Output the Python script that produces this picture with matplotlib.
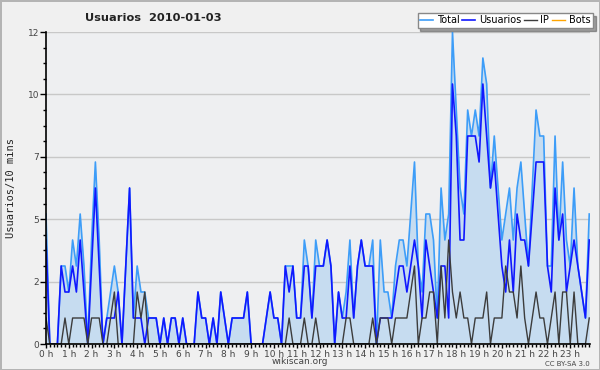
import numpy as np
import matplotlib
matplotlib.use('Agg')
from matplotlib import pyplot as plt
from matplotlib.ticker import FixedLocator, MultipleLocator

# valores cada 10 minutos (144 puntos)
total = [5, 0, 0, 0, 3, 3, 2, 4, 3, 5,
         3, 0, 4, 7, 4, 0, 1, 2, 3, 2,
         0, 3, 6, 1, 3, 2, 2, 1, 1, 1,
         0, 1, 0, 1, 1, 0, 1, 0, 0, 0,
         2, 1, 1, 0, 1, 0, 2, 1, 0, 1,
         1, 1, 1, 2, 0, 0, 0, 0, 1, 2,
         1, 1, 0, 3, 3, 3, 1, 1, 4, 3,
         1, 4, 3, 3, 4, 3, 0, 2, 1, 2,
         4, 1, 3, 4, 3, 3, 4, 0, 4, 2,
         2, 1, 3, 4, 4, 3, 5, 7, 3, 2,
         5, 5, 4, 1, 6, 4, 5, 12, 9, 6,
         5, 9, 8, 9, 8, 11, 10, 6, 8, 6,
         4, 5, 6, 4, 6, 7, 5, 3, 6, 9,
         8, 8, 3, 3, 8, 4, 7, 4, 3, 6,
         3, 2, 1, 5]

usuarios = [4, 0, 0, 0, 3, 2, 2, 3, 2, 4,
            2, 0, 3, 6, 3, 0, 1, 1, 1, 2,
            0, 3, 6, 1, 1, 1, 0, 1, 1, 1,
            0, 1, 0, 1, 1, 0, 1, 0, 0, 0,
            2, 1, 1, 0, 1, 0, 2, 1, 0, 1,
            1, 1, 1, 2, 0, 0, 0, 0, 1, 2,
            1, 1, 0, 3, 2, 3, 1, 1, 3, 3,
            1, 3, 3, 3, 4, 3, 0, 2, 1, 1,
            3, 1, 3, 4, 3, 3, 3, 0, 1, 1,
            1, 1, 2, 3, 3, 2, 3, 4, 3, 1,
            4, 3, 2, 1, 3, 3, 1, 10, 8, 4,
            4, 8, 8, 8, 7, 10, 8, 6, 7, 5,
            3, 2, 4, 2, 5, 4, 4, 3, 5, 7,
            7, 7, 3, 2, 6, 4, 5, 2, 3, 4,
            3, 2, 1, 4]

ip = [1, 0, 0, 0, 0, 1, 0, 1, 1, 1,
      1, 0, 1, 1, 1, 0, 0, 1, 2, 0,
      0, 0, 0, 0, 2, 1, 2, 0, 0, 0,
      0, 0, 0, 0, 0, 0, 0, 0, 0, 0,
      0, 0, 0, 0, 0, 0, 0, 0, 0, 0,
      0, 0, 0, 0, 0, 0, 0, 0, 0, 0,
      0, 0, 0, 0, 1, 0, 0, 0, 1, 0,
      0, 1, 0, 0, 0, 0, 0, 0, 0, 1,
      1, 0, 0, 0, 0, 0, 1, 0, 1, 1,
      1, 0, 1, 1, 1, 1, 2, 3, 0, 1,
      1, 2, 2, 0, 3, 1, 4, 2, 1, 2,
      1, 1, 0, 1, 1, 1, 2, 0, 1, 1,
      1, 3, 2, 2, 1, 3, 1, 0, 1, 2,
      1, 1, 0, 1, 2, 0, 2, 2, 0, 2,
      0, 0, 0, 1]

bots = [0] * 144

hour_labels = [f'{h} h' for h in range(24)]
y_ticks = [0, 2.4, 4.8, 7.2, 9.6, 12]
y_labels = ['0', '2', '5', '7', '10', '12']

c_total = '#3d9df8'
c_fill = '#c6dcf0'
c_users = '#1018ff'
c_ip = '#3c3c3c'
c_bots = '#ffa500'

x = np.arange(len(total))

fig = plt.figure(figsize=(6, 3.7), dpi=100, facecolor='#f0f0f0',
                 edgecolor='#b4b4b4', linewidth=2)
ax = fig.add_axes([46/600, 1-344/370, 544/600, 312/370])
ax.set_facecolor('#eeeff1')

ax.fill_between(x, total, 0, color=c_fill, lw=0, zorder=1)
l_bots, = ax.plot(x, bots, color=c_bots, lw=1, zorder=1.5)
l_total, = ax.plot(x, total, color=c_total, lw=1.2, zorder=2)
l_users, = ax.plot(x, usuarios, color=c_users, lw=1.2, zorder=3)
l_ip, = ax.plot(x, ip, color=c_ip, lw=1, zorder=4)

ax.set_xlim(0, 143.2)
ax.set_ylim(0, 12)

ax.yaxis.set_major_locator(FixedLocator(y_ticks))
ax.set_yticklabels(y_labels)
ax.yaxis.set_minor_locator(MultipleLocator(0.6))
ax.grid(axis='y', which='major', color='#c8c8c8', lw=1)
ax.set_axisbelow(True)

ax.xaxis.set_major_locator(FixedLocator(np.arange(24) * 6))
ax.set_xticklabels(hour_labels)
ax.xaxis.set_minor_locator(MultipleLocator(1))

ax.tick_params(axis='both', which='major', length=4, width=1, color='black',
               labelsize=6.5, labelcolor='#444444', pad=1)
ax.tick_params(axis='both', which='minor', length=2.5, width=1, color='black')
ax.tick_params(axis='x', which='major', length=3)

for s in ['top', 'right']:
    ax.spines[s].set_visible(False)
for s in ['left', 'bottom']:
    ax.spines[s].set_color('black')
    ax.spines[s].set_linewidth(1.2)
    ax.spines[s].set_zorder(5)

ax.set_ylabel('Usuarios/10 mins', family='DejaVu Sans Mono', fontsize=7.5,
              color='#222222', labelpad=8)

fig.text(0.142, 0.952, 'Usuarios  2010-01-03', fontsize=8.2, weight='bold',
         color='#222222', va='center')

leg = fig.legend([l_total, l_users, l_ip, l_bots],
                 ['Total', 'Usuarios', 'IP', 'Bots'], ncol=4,
                 loc='upper right', bbox_to_anchor=(0.988, 0.965),
                 fontsize=7, frameon=True, fancybox=False, shadow=True,
                 handlelength=1.3, handletextpad=0.4, columnspacing=0.3,
                 borderpad=0.25, borderaxespad=0)
leg.get_frame().set_edgecolor('#888888')
leg.get_frame().set_linewidth(1)
leg.get_frame().set_facecolor('white')
leg.get_frame().set_alpha(1)

fig.text(0.5, 0.022, 'wikiscan.org', fontsize=6.5, color='#444444',
         ha='center', va='center')
fig.text(0.983, 0.016, 'CC BY-SA 3.0', fontsize=5, color='#444444',
         ha='right', va='center')

fig.savefig('out.png', dpi=100, facecolor=fig.get_facecolor(),
            edgecolor=fig.get_edgecolor())
plt.close()
